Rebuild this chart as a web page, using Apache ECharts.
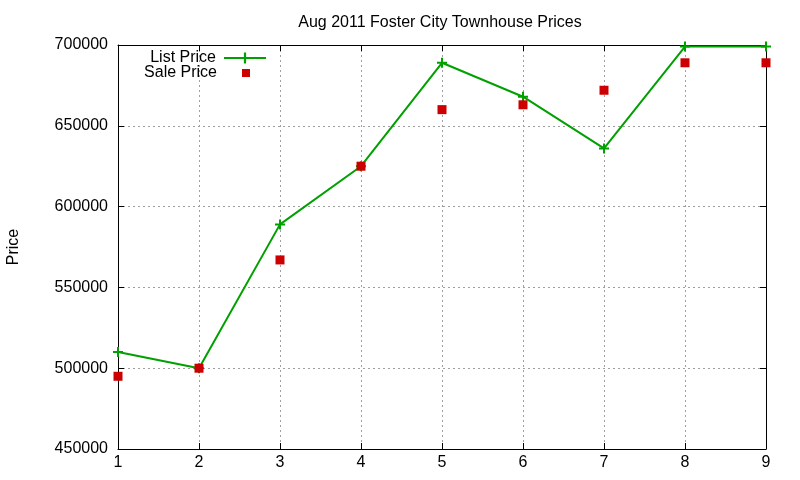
<!DOCTYPE html>
<html><head><meta charset="utf-8">
<script src="https://cdn.jsdelivr.net/npm/echarts@6/dist/echarts.min.js"></script>
<style>html,body{margin:0;padding:0;background:#fff}#c{width:800px;height:480px}</style>
</head><body><div id="c"></div>
<script>
const months = [1, 2, 3, 4, 5, 6, 7, 8, 9];
const listPrice = [510000, 500000, 589000, 625000, 689000, 668000, 636000, 699000, 699000];
const salePrice = [495000, 500000, 567000, 625000, 660000, 663000, 672000, 689000, 689000];
const yTicks = { min: 450000, max: 700000, interval: 50000 };
const xTicks = { min: 1, max: 9, interval: 1 };

const FONT = '"Liberation Sans", Arial, sans-serif';
const gridLine = { show: true, lineStyle: { color: '#a0a0a0', type: [2, 3], width: 1 } };
const axisLine = { show: true, lineStyle: { color: '#000', width: 1 } };
const tick = { show: true, inside: true, length: 6, lineStyle: { color: '#000' } };

const chart = echarts.init(document.getElementById('c'), null, { renderer: 'canvas' });
chart.setOption({
  animation: false,
  backgroundColor: '#fff',
  title: {
    text: 'Aug 2011 Foster City Townhouse Prices',
    left: 435, top: 10, textAlign: 'center',
    textStyle: { fontFamily: FONT, fontSize: 16, fontWeight: 'normal', color: '#000' }
  },
  legend: [
    {
      data: ['List Price'], right: 533, top: 49, orient: 'vertical', align: 'right',
      itemWidth: 42, itemHeight: 14, padding: 0,
      textStyle: { fontFamily: FONT, fontSize: 16, color: '#000', lineHeight: 18, padding: [0, 3, 0, 0] }
    },
    {
      data: [{ name: 'Sale Price', icon: 'rect' }], right: 550, top: 64, orient: 'vertical', align: 'right',
      itemWidth: 8, itemHeight: 8, padding: 0,
      textStyle: { fontFamily: FONT, fontSize: 16, color: '#000', lineHeight: 18, padding: [0, 20, 0, 0] }
    }
  ],
  grid: { left: 118, right: 34, top: 45, bottom: 31, containLabel: false, outerBoundsMode: 'none' },
  xAxis: [
    {
      type: 'value', min: xTicks.min, max: xTicks.max, interval: xTicks.interval,
      axisLine: axisLine, axisTick: tick, splitLine: gridLine,
      axisLabel: { fontFamily: FONT, fontSize: 16, color: '#000', margin: 6 }
    },
    {
      type: 'value', position: 'top', min: xTicks.min, max: xTicks.max, interval: xTicks.interval,
      axisLine: axisLine, axisTick: tick, splitLine: { show: false }, axisLabel: { show: false }
    }
  ],
  yAxis: [
    {
      type: 'value', min: yTicks.min, max: yTicks.max, interval: yTicks.interval,
      name: 'Price', nameLocation: 'middle', nameRotate: 90, nameGap: 96,
      nameTextStyle: { fontFamily: FONT, fontSize: 16, color: '#000' },
      axisLine: axisLine, axisTick: tick, splitLine: gridLine,
      axisLabel: { fontFamily: FONT, fontSize: 16, color: '#000', margin: 10, formatter: v => String(v) }
    },
    {
      type: 'value', position: 'right', min: yTicks.min, max: yTicks.max, interval: yTicks.interval,
      axisLine: axisLine, axisTick: tick, splitLine: { show: false }, axisLabel: { show: false }
    }
  ],
  series: [
    {
      name: 'List Price', type: 'line', xAxisIndex: 0, yAxisIndex: 0,
      data: months.map((m, i) => [m, listPrice[i]]),
      symbol: 'path://M4,0h2v4h4v2h-4v4h-2v-4h-4v-2h4z', symbolSize: 10, showAllSymbol: true,
      lineStyle: { color: '#00a000', width: 2 },
      itemStyle: { color: '#00a000' }, z: 3
    },
    {
      name: 'Sale Price', type: 'scatter', xAxisIndex: 0, yAxisIndex: 0,
      data: months.map((m, i) => [m, salePrice[i]]),
      symbol: 'rect', symbolSize: 9,
      itemStyle: { color: '#cc0000', opacity: 1 }, z: 4
    }
  ]
});
</script></body></html>
